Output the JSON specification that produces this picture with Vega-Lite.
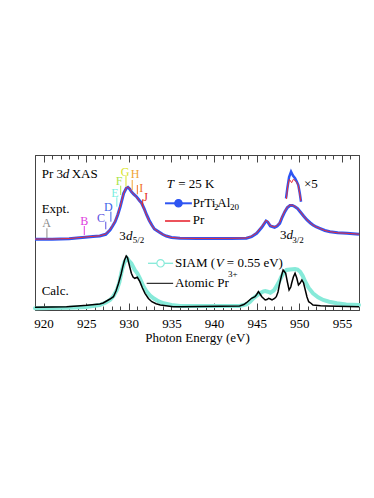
{
  "$schema": "https://vega.github.io/schema/vega-lite/v6.json",
  "width": 324,
  "height": 155,
  "autosize": {"type": "none"},
  "padding": {"left": 35, "top": 155, "right": 15, "bottom": 188},
  "background": "white",
  "config": {
    "view": {"stroke": "#444", "strokeWidth": 1},
    "font": "Liberation Serif",
    "text": {"font": "Liberation Serif"}
  },
  "datasets": {
    "blue": [
      {"e":919.0,"v":70.7},{"e":920,"v":70.8},{"e":921,"v":70.8},{"e":922,"v":71},{"e":923,"v":71.3},{"e":923.9,"v":72},{"e":924.9,"v":72.8},{"e":925.8,"v":73.5},{"e":926.6,"v":74},{"e":927.3,"v":75.7},{"e":927.8,"v":80},{"e":928.1,"v":84},{"e":928.4,"v":88.3},{"e":928.7,"v":95},{"e":929.0,"v":103.3},{"e":929.2,"v":110},{"e":929.4,"v":116.7},{"e":929.7,"v":121.7},{"e":929.9,"v":122.7},{"e":930.1,"v":121},{"e":930.3,"v":118.3},{"e":930.6,"v":115.5},{"e":930.9,"v":113.3},{"e":931.2,"v":110},{"e":931.5,"v":107},{"e":931.8,"v":101.5},{"e":932.1,"v":95},{"e":932.4,"v":89.5},{"e":932.7,"v":85},{"e":933.0,"v":81},{"e":933.5,"v":78.3},{"e":934.0,"v":75.5},{"e":934.4,"v":74},{"e":935.0,"v":72.5},{"e":936.0,"v":71.7},{"e":938,"v":71.5},{"e":940,"v":71.5},{"e":942,"v":71.6},{"e":943.8,"v":71.7},{"e":944.4,"v":73.3},{"e":945.0,"v":76.7},{"e":945.6,"v":82.7},{"e":946.1,"v":89},{"e":946.3,"v":88},{"e":946.6,"v":84},{"e":947.1,"v":82.7},{"e":947.4,"v":84},{"e":947.7,"v":86.7},{"e":948.0,"v":93},{"e":948.3,"v":98.3},{"e":948.6,"v":102.5},{"e":948.9,"v":104.5},{"e":949.2,"v":104.5},{"e":949.5,"v":103.3},{"e":949.8,"v":101.5},{"e":950.1,"v":98.3},{"e":950.5,"v":94},{"e":950.9,"v":90},{"e":951.3,"v":87},{"e":951.6,"v":85},{"e":952.0,"v":83},{"e":952.4,"v":81.7},{"e":953.0,"v":79.5},{"e":953.6,"v":78.3},{"e":954.5,"v":77.2},{"e":955.6,"v":76.7},{"e":957,"v":75.7}
    ],
    "red": [
      {"e":919.0,"v":70.9},{"e":920,"v":71},{"e":921,"v":71},{"e":922,"v":71.2},{"e":923,"v":71.5},{"e":923.9,"v":72.2},{"e":924.9,"v":73},{"e":925.8,"v":73.6},{"e":926.6,"v":74.2},{"e":927.3,"v":76},{"e":927.8,"v":80.5},{"e":928.1,"v":84.5},{"e":928.4,"v":89},{"e":928.7,"v":95.5},{"e":929.0,"v":104},{"e":929.2,"v":110.5},{"e":929.4,"v":117},{"e":929.7,"v":122},{"e":929.9,"v":123.2},{"e":930.1,"v":121.5},{"e":930.3,"v":118.5},{"e":930.6,"v":115.5},{"e":930.9,"v":113},{"e":931.2,"v":109.5},{"e":931.5,"v":106.5},{"e":931.8,"v":101},{"e":932.1,"v":94.5},{"e":932.4,"v":89},{"e":932.7,"v":84.8},{"e":933.0,"v":81},{"e":933.5,"v":78.2},{"e":934.0,"v":75.5},{"e":934.4,"v":74},{"e":935.0,"v":72.6},{"e":936.0,"v":71.8},{"e":938,"v":71.6},{"e":940,"v":71.6},{"e":942,"v":71.7},{"e":943.8,"v":72},{"e":944.4,"v":73.8},{"e":945.0,"v":77.2},{"e":945.6,"v":83.5},{"e":946.1,"v":89.8},{"e":946.3,"v":88.5},{"e":946.6,"v":84.5},{"e":947.1,"v":83},{"e":947.4,"v":84.5},{"e":947.7,"v":87.5},{"e":948.0,"v":93.8},{"e":948.3,"v":99},{"e":948.6,"v":103},{"e":948.9,"v":105},{"e":949.2,"v":104.8},{"e":949.5,"v":103.5},{"e":949.8,"v":101.5},{"e":950.1,"v":98.5},{"e":950.5,"v":94},{"e":950.9,"v":90},{"e":951.3,"v":87},{"e":951.6,"v":85},{"e":952.0,"v":83},{"e":952.4,"v":81.7},{"e":953.0,"v":79.5},{"e":953.6,"v":78.3},{"e":954.5,"v":77.2},{"e":955.6,"v":76.7},{"e":957,"v":75.8}
    ],
    "blue5": [
      {"e":948.44,"v":111.7},{"e":948.6,"v":122},{"e":948.8,"v":133},{"e":949.03,"v":138.3},{"e":949.25,"v":134.5},{"e":949.5,"v":131.7},{"e":949.7,"v":128.5},{"e":949.88,"v":125},{"e":950.05,"v":117},{"e":950.2,"v":108.3}
    ],
    "red5": [
      {"e":948.48,"v":111},{"e":948.65,"v":124},{"e":948.83,"v":130.7},{"e":949.1,"v":127.3},{"e":949.3,"v":130.7},{"e":949.5,"v":129.5},{"e":949.7,"v":127.5},{"e":949.88,"v":124.5},{"e":950.05,"v":116.5},{"e":950.18,"v":109}
    ],
    "black": [
      {"e":919,"v":2.7},{"e":921,"v":3},{"e":922.7,"v":3.3},{"e":924,"v":4},{"e":925.1,"v":4.7},{"e":926.0,"v":5.5},{"e":926.6,"v":6},{"e":927.0,"v":7},{"e":927.4,"v":9},{"e":927.8,"v":11},{"e":928.2,"v":13.3},{"e":928.5,"v":19},{"e":928.8,"v":26.7},{"e":929.1,"v":36},{"e":929.3,"v":43.3},{"e":929.5,"v":50},{"e":929.7,"v":54},{"e":929.85,"v":52.5},{"e":930.0,"v":47},{"e":930.3,"v":36.7},{"e":930.5,"v":33},{"e":930.7,"v":31.7},{"e":931.0,"v":32.7},{"e":931.3,"v":28.3},{"e":931.6,"v":22},{"e":931.9,"v":16.7},{"e":932.3,"v":11.5},{"e":932.7,"v":8.3},{"e":933.2,"v":6.3},{"e":933.7,"v":5},{"e":935.2,"v":3.3},{"e":936,"v":3.3},{"e":943.0,"v":4},{"e":943.5,"v":5.5},{"e":943.8,"v":7.3},{"e":944.1,"v":9.5},{"e":944.4,"v":11.7},{"e":944.8,"v":13.3},{"e":945.0,"v":15.5},{"e":945.2,"v":18.3},{"e":945.4,"v":16},{"e":945.6,"v":13.3},{"e":946.0,"v":10},{"e":946.2,"v":10.5},{"e":946.4,"v":11.7},{"e":946.6,"v":11},{"e":946.8,"v":10},{"e":947.1,"v":11.5},{"e":947.3,"v":13.3},{"e":947.5,"v":18},{"e":947.7,"v":26.7},{"e":947.9,"v":34},{"e":948.1,"v":40},{"e":948.25,"v":38.5},{"e":948.4,"v":36.7},{"e":948.6,"v":28},{"e":948.8,"v":20},{"e":949.0,"v":23},{"e":949.1,"v":26.7},{"e":949.3,"v":33},{"e":949.5,"v":36.7},{"e":949.7,"v":32},{"e":949.9,"v":25},{"e":950.1,"v":27},{"e":950.3,"v":30},{"e":950.5,"v":27},{"e":950.7,"v":20},{"e":950.9,"v":13},{"e":951.1,"v":8.3},{"e":951.4,"v":6.5},{"e":951.6,"v":5},{"e":952.5,"v":4.2},{"e":953.2,"v":4},{"e":957,"v":3.3}
    ],
    "cyan": [
      {"e":919,"v":1.7},{"e":923,"v":2.2},{"e":925,"v":3},{"e":926.6,"v":5},{"e":927.3,"v":7.5},{"e":927.8,"v":10},{"e":928.2,"v":14},{"e":928.6,"v":20},{"e":928.9,"v":28},{"e":929.2,"v":40},{"e":929.5,"v":48},{"e":929.8,"v":51.7},{"e":930.0,"v":49.5},{"e":930.3,"v":46.7},{"e":930.7,"v":40},{"e":931.0,"v":36.7},{"e":931.3,"v":31.7},{"e":931.7,"v":24},{"e":932.1,"v":18.3},{"e":932.5,"v":14.5},{"e":932.9,"v":11.7},{"e":933.5,"v":8.5},{"e":934.1,"v":6.7},{"e":935.0,"v":5},{"e":936,"v":4},{"e":940,"v":4},{"e":943.0,"v":4},{"e":943.8,"v":5.7},{"e":944.2,"v":8},{"e":944.6,"v":11.7},{"e":945.0,"v":14.3},{"e":945.4,"v":16.7},{"e":945.8,"v":18.7},{"e":946.0,"v":19},{"e":946.3,"v":18.3},{"e":946.6,"v":17.3},{"e":947.0,"v":19.5},{"e":947.3,"v":23.3},{"e":947.6,"v":28},{"e":947.9,"v":33.3},{"e":948.2,"v":38},{"e":948.5,"v":40},{"e":948.9,"v":40.5},{"e":949.5,"v":41},{"e":949.8,"v":40.5},{"e":950.1,"v":38.3},{"e":950.4,"v":34},{"e":950.7,"v":28.3},{"e":951.1,"v":22},{"e":951.6,"v":16.7},{"e":952.2,"v":12.7},{"e":952.8,"v":10},{"e":953.5,"v":8.3},{"e":954.4,"v":6.7},{"e":955.5,"v":5.5},{"e":957,"v":5}
    ],
    "letters": [
      {"t":"A","e":920.37,"v":83,"tx":920.4,"v1":81.7,"v2":71.7},
      {"t":"B","e":924.78,"v":85.5,"tx":924.78,"v1":84,"v2":75},
      {"t":"C","e":926.74,"v":88,"tx":927.3,"v1":88.3,"v2":80.7},
      {"t":"D","e":927.6,"v":99.5,"tx":927.9,"v1":98.3,"v2":88.3},
      {"t":"E","e":928.38,"v":113.2,"tx":928.6,"v1":112.7,"v2":103.3},
      {"t":"F","e":928.85,"v":125,"tx":929.05,"v1":124.3,"v2":115},
      {"t":"G","e":929.56,"v":134,"tx":929.67,"v1":134,"v2":123.3},
      {"t":"H","e":930.73,"v":132.2,"tx":930.4,"v1":130,"v2":120},
      {"t":"I","e":931.47,"v":118,"tx":931.0,"v1":125,"v2":115.7},
      {"t":"J","e":931.98,"v":109,"tx":931.63,"v1":110.7,"v2":103.3}
    ],
    "normal": [
      {"t":"Pr 3","e":919.78,"v":132},
      {"t":"XAS","e":923.3,"v":132},
      {"t":"Expt.","e":919.78,"v":97.3},
      {"t":"Calc.","e":919.78,"v":15},
      {"t":"3","e":928.89,"v":70},
      {"t":"3","e":947.74,"v":70.7},
      {"t":"×5","e":950.55,"v":121.7},
      {"t":"= 25 K","e":935.8,"v":121.7},
      {"t":"PrTi","e":937.5,"v":103.3},
      {"t":"Al","e":940.38,"v":103.3},
      {"t":"Pr","e":937.5,"v":85.7},
      {"t":"SIAM (","e":935.42,"v":43.3},
      {"t":"= 0.55 eV)","e":941.5,"v":43.3},
      {"t":"Atomic Pr","e":935.42,"v":23.3}
    ],
    "italic": [
      {"t":"d","e":922.25,"v":132},
      {"t":"d","e":929.67,"v":70},
      {"t":"d","e":948.5,"v":70.7},
      {"t":"T","e":934.45,"v":121.7},
      {"t":"V","e":940.2,"v":43.3}
    ],
    "small": [
      {"t":"5/2","e":930.46,"v":66.7},
      {"t":"3/2","e":949.18,"v":67},
      {"t":"2","e":940.0,"v":100.5},
      {"t":"20","e":941.87,"v":100.5},
      {"t":"3+","e":941.65,"v":33.5}
    ],
    "keys": [
      {"s":"PrTi2Al20","e":934.25,"e2":937.4,"v":106.7},
      {"s":"Pr","e":934.25,"e2":937.2,"v":89},
      {"s":"SIAM","e":932.25,"e2":935.2,"v":46.7},
      {"s":"Atomic","e":932.1,"e2":935.2,"v":26.7}
    ]
  },
  "resolve": {"axis": {"x": "independent"}, "scale": {"color": "independent"}},
  "layer": [
    {
      "data": {"name": "cyan"},
      "mark": {"type": "line", "color": "#86EAD9", "strokeWidth": 4, "strokeCap": "round"},
      "encoding": {
        "x": {"field": "e", "type": "quantitative", "scale": {"domain": [919, 957], "nice": false, "zero": false},
          "axis": {"orient": "bottom", "values": [919,920,921,922,923,924,925,926,927,928,929,930,931,932,933,934,935,936,937,938,939,940,941,942,943,944,945,946,947,948,949,950,951,952,953,954,955,956,957],
            "labelExpr": "datum.value % 5 === 0 ? datum.label : ''",
            "tickSize": {"condition": {"test": "datum.value % 5 === 0", "value": -7}, "value": -4},
            "tickColor": "#444", "domainColor": "#444", "grid": false,
            "labelFont": "Liberation Serif", "labelFontSize": 13, "labelColor": "black", "labelPadding": 14,
            "title": "Photon Energy (eV)", "titleFont": "Liberation Serif", "titleFontSize": 13, "titleFontWeight": "normal", "titleColor": "black", "titlePadding": 1}},
        "y": {"field": "v", "type": "quantitative", "scale": {"domain": [0, 155], "nice": false, "zero": false},
          "axis": {"ticks": false, "labels": false, "grid": false, "domainColor": "#444",
            "title": "Intensity (arb. units)", "titleFont": "Liberation Serif", "titleFontSize": 13, "titleFontWeight": "normal", "titleColor": "black", "titlePadding": 6}}
      }
    },
    {
      "data": {"name": "black"},
      "mark": {"type": "line", "color": "black", "strokeWidth": 1.5},
      "encoding": {
        "x": {"field": "e", "type": "quantitative",
          "axis": {"orient": "top", "values": [919,920,921,922,923,924,925,926,927,928,929,930,931,932,933,934,935,936,937,938,939,940,941,942,943,944,945,946,947,948,949,950,951,952,953,954,955,956,957],
            "labels": false, "title": null, "grid": false,
            "tickSize": {"condition": {"test": "datum.value % 5 === 0", "value": -7}, "value": -4},
            "tickColor": "#444", "domainColor": "#444"}},
        "y": {"field": "v", "type": "quantitative", "axis": null}
      }
    },
    {
      "data": {"name": "blue"},
      "mark": {"type": "line", "color": "#2E55F2", "strokeWidth": 3},
      "encoding": {
        "x": {"field": "e", "type": "quantitative", "axis": null},
        "y": {"field": "v", "type": "quantitative", "axis": null}
      }
    },
    {
      "data": {"name": "red"},
      "mark": {"type": "line", "color": "#E8303A", "strokeWidth": 1},
      "encoding": {
        "x": {"field": "e", "type": "quantitative", "axis": null},
        "y": {"field": "v", "type": "quantitative", "axis": null}
      }
    },
    {
      "data": {"name": "blue5"},
      "mark": {"type": "line", "color": "#2E55F2", "strokeWidth": 2.5},
      "encoding": {
        "x": {"field": "e", "type": "quantitative", "axis": null},
        "y": {"field": "v", "type": "quantitative", "axis": null}
      }
    },
    {
      "data": {"name": "red5"},
      "mark": {"type": "line", "color": "#E8303A", "strokeWidth": 1},
      "encoding": {
        "x": {"field": "e", "type": "quantitative", "axis": null},
        "y": {"field": "v", "type": "quantitative", "axis": null}
      }
    },
    {
      "data": {"name": "keys"},
      "mark": {"type": "rule"},
      "encoding": {
        "x": {"field": "e", "type": "quantitative", "axis": null},
        "x2": {"field": "e2"},
        "y": {"field": "v", "type": "quantitative", "axis": null},
        "color": {"field": "s", "type": "nominal", "legend": null,
          "scale": {"domain": ["PrTi2Al20", "Pr", "SIAM", "Atomic"], "range": ["#2E55F2", "#E8303A", "#86EAD9", "black"]}},
        "strokeWidth": {"field": "s", "type": "nominal", "legend": null,
          "scale": {"domain": ["PrTi2Al20", "Pr", "SIAM", "Atomic"], "range": [2, 1, 2, 1.5]}}
      }
    },
    {
      "data": {"name": "keys"},
      "transform": [{"filter": "datum.s === 'PrTi2Al20' || datum.s === 'SIAM'"}, {"calculate": "(datum.e + datum.e2) / 2", "as": "m"}],
      "mark": {"type": "point", "size": 55, "strokeWidth": 1.2, "opacity": 1},
      "encoding": {
        "x": {"field": "m", "type": "quantitative", "axis": null},
        "y": {"field": "v", "type": "quantitative", "axis": null},
        "fill": {"field": "s", "type": "nominal", "legend": null, "scale": {"domain": ["PrTi2Al20", "SIAM"], "range": ["#2E55F2", "white"]}},
        "stroke": {"field": "s", "type": "nominal", "legend": null, "scale": {"domain": ["PrTi2Al20", "SIAM"], "range": ["#2E55F2", "#86EAD9"]}}
      }
    },
    {
      "data": {"name": "letters"},
      "mark": {"type": "rule", "strokeWidth": 1},
      "encoding": {
        "x": {"field": "tx", "type": "quantitative", "axis": null},
        "y": {"field": "v1", "type": "quantitative", "axis": null},
        "y2": {"field": "v2"},
        "color": {"field": "t", "type": "nominal", "legend": null,
          "scale": {"domain": ["A","B","C","D","E","F","G","H","I","J"], "range": ["#8A8A8A","#E03CE0","#5A50E0","#3C64E8","#78EEE0","#A8E448","#D8E428","#F0A434","#F07028","#E42A22"]}}
      }
    },
    {
      "data": {"name": "letters"},
      "mark": {"type": "text", "font": "Liberation Serif", "fontSize": 12, "align": "center", "baseline": "alphabetic"},
      "encoding": {
        "x": {"field": "e", "type": "quantitative", "axis": null},
        "y": {"field": "v", "type": "quantitative", "axis": null},
        "text": {"field": "t"},
        "color": {"field": "t", "type": "nominal", "legend": null,
          "scale": {"domain": ["A","B","C","D","E","F","G","H","I","J"], "range": ["#8A8A8A","#E03CE0","#5A50E0","#3C64E8","#78EEE0","#A8E448","#D8E428","#F0A434","#F07028","#E42A22"]}}
      }
    },
    {
      "data": {"name": "normal"},
      "mark": {"type": "text", "font": "Liberation Serif", "fontSize": 13, "align": "left", "baseline": "alphabetic", "color": "black"},
      "encoding": {
        "x": {"field": "e", "type": "quantitative", "axis": null},
        "y": {"field": "v", "type": "quantitative", "axis": null},
        "text": {"field": "t"}
      }
    },
    {
      "data": {"name": "italic"},
      "mark": {"type": "text", "font": "Liberation Serif", "fontSize": 13, "fontStyle": "italic", "align": "left", "baseline": "alphabetic", "color": "black"},
      "encoding": {
        "x": {"field": "e", "type": "quantitative", "axis": null},
        "y": {"field": "v", "type": "quantitative", "axis": null},
        "text": {"field": "t"}
      }
    },
    {
      "data": {"name": "small"},
      "mark": {"type": "text", "font": "Liberation Serif", "fontSize": 9, "align": "left", "baseline": "alphabetic", "color": "black"},
      "encoding": {
        "x": {"field": "e", "type": "quantitative", "axis": null},
        "y": {"field": "v", "type": "quantitative", "axis": null},
        "text": {"field": "t"}
      }
    }
  ]
}
